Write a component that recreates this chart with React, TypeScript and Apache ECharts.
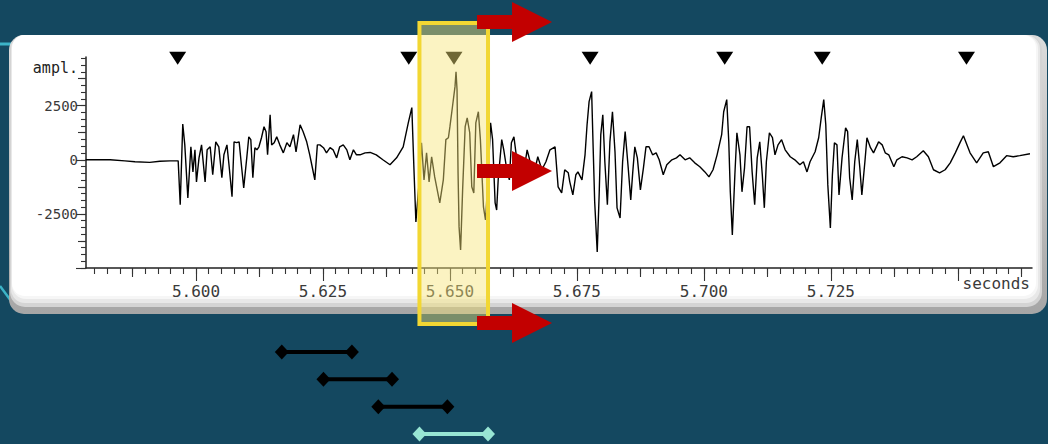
import React, { useEffect, useRef } from "react";
import * as echarts from "echarts";

// Seismic trace: sample times (s) and amplitudes
const traceTime = [
  5.5783, 5.5831, 5.5860, 5.5880, 5.5909, 5.5929, 5.5949, 5.5965, 5.5969, 5.5974,
  5.5978, 5.5984, 5.5990, 5.5994, 5.5998, 5.6001, 5.6006, 5.6011, 5.6018, 5.6022,
  5.6028, 5.6033, 5.6039, 5.6045, 5.6051, 5.6055, 5.6061, 5.6065, 5.6071, 5.6075,
  5.6080, 5.6085, 5.6090, 5.6094, 5.6100, 5.6104, 5.6108, 5.6112, 5.6116, 5.6120,
  5.6124, 5.6129, 5.6134, 5.6138, 5.6141, 5.6146, 5.6149, 5.6154, 5.6159, 5.6165,
  5.6172, 5.6179, 5.6185, 5.6192, 5.6197, 5.6205, 5.6211, 5.6218, 5.6224, 5.6230,
  5.6234, 5.6239, 5.6244, 5.6251, 5.6257, 5.6264, 5.6270, 5.6277, 5.6283, 5.6290,
  5.6297, 5.6303, 5.6310, 5.6316, 5.6323, 5.6333, 5.6343, 5.6355, 5.6368, 5.6382,
  5.6395, 5.6408, 5.6418, 5.6425, 5.6429, 5.6433, 5.6439, 5.6444, 5.6449, 5.6454,
  5.6459, 5.6464, 5.6470, 5.6480, 5.6487, 5.6492, 5.6497, 5.6500, 5.6505, 5.6510,
  5.6512, 5.6514, 5.6516, 5.6518, 5.6521, 5.6525, 5.6530, 5.6534, 5.6539, 5.6543,
  5.6547, 5.6551, 5.6556, 5.6560, 5.6566, 5.6570, 5.6575, 5.6580, 5.6584, 5.6589,
  5.6592, 5.6595, 5.6602, 5.6606, 5.6612, 5.6617, 5.6621, 5.6626, 5.6631, 5.6638,
  5.6646, 5.6652, 5.6657, 5.6665, 5.6673, 5.6681, 5.6689, 5.6697, 5.6707, 5.6713,
  5.6720, 5.6726, 5.6733, 5.6736, 5.6742, 5.6748, 5.6752, 5.6760, 5.6766, 5.6770,
  5.6774, 5.6779, 5.6782, 5.6785, 5.6790, 5.6794, 5.6797, 5.6801, 5.6805, 5.6810,
  5.6815, 5.6820, 5.6825, 5.6829, 5.6835, 5.6840, 5.6845, 5.6851, 5.6856, 5.6860,
  5.6864, 5.6869, 5.6875, 5.6881, 5.6886, 5.6892, 5.6899, 5.6906, 5.6912, 5.6920,
  5.6927, 5.6937, 5.6946, 5.6953, 5.6963, 5.6972, 5.6982, 5.6992, 5.7002, 5.7010,
  5.7018, 5.7026, 5.7035, 5.7039, 5.7045, 5.7049, 5.7052, 5.7056, 5.7061, 5.7065,
  5.7071, 5.7075, 5.7080, 5.7085, 5.7090, 5.7095, 5.7100, 5.7105, 5.7110, 5.7115,
  5.7119, 5.7123, 5.7129, 5.7135, 5.7140, 5.7146, 5.7153, 5.7160, 5.7170, 5.7179,
  5.7189, 5.7196, 5.7203, 5.7209, 5.7219, 5.7226, 5.7231, 5.7236, 5.7240, 5.7244,
  5.7249, 5.7253, 5.7257, 5.7262, 5.7266, 5.7272, 5.7279, 5.7283, 5.7287, 5.7292,
  5.7297, 5.7302, 5.7307, 5.7311, 5.7317, 5.7321, 5.7328, 5.7334, 5.7344, 5.7351,
  5.7357, 5.7364, 5.7374, 5.7380, 5.7390, 5.7400, 5.7410, 5.7419, 5.7432, 5.7442,
  5.7452, 5.7464, 5.7475, 5.7485, 5.7495, 5.7505, 5.7511, 5.7524, 5.7537, 5.7550,
  5.7560, 5.7570, 5.7583, 5.7596, 5.7609, 5.7622, 5.7642,
];

const traceAmp = [
  0, 0, -50, -90, -120, -70, -50, -50, -2080, 1650,
  690, -1760, 600, -560, 460, -1020, 90, 690, -1020, 460,
  600, -690, 830, 600, -830, 230, 690, -230, -1710, 830,
  790, 830, -370, -1300, 90, 1060, 930, -830, 560, 460,
  600, 1020, 1530, 1300, 230, 2080, 690, 790, 1060, 690,
  320, 790, 600, 1160, 370, 1620, 1300, 830, 230, -460,
  -930, 690, 690, 560, 320, 560, 460, 90, 600, 690,
  460, 0, 460, 230, 230, 320, 340, 230, 0, -230,
  90, 600, 1710, 2410, -320, -2870, -1160, 790, -930, 320,
  -1020, 140, -790, -1990, -930, 930, 1020, 1530, 2450, 3380,
  4070, 3240, -600, -3100, -4170, -1390, 1530, 1940, 1250, -1250,
  -1530, 1710, 2220, 930, -2180, -2780, -930, 1710, 930, -1990,
  -2320, -930, 930, 460, -460, -930, 790, 1060, 140, -690,
  -460, 460, 0, -690, 140, -460, -90, 460, 600, -1250,
  -1530, -460, -600, -1020, -1620, -690, -560, -930, 230, 1620,
  2690, 3150, 560, -1940, -4260, -1480, 1160, 2080, -90, -2080,
  830, 2220, 370, -2220, -2690, -90, 1300, -370, -1850, -560,
  600, 90, -1390, -370, 600, 600, 230, 320, 0, -690,
  -230, 0, 90, 230, 0, 90, -140, -320, -560, -790,
  -460, 230, 1160, 2220, 2780, 830, -1480, -3470, -690, 1250,
  230, -1480, -370, 1530, 1530, -560, -2080, 90, 830, -690,
  -2220, -90, 1250, 1020, 230, 690, 930, 460, 140, 0,
  -230, -90, -560, -90, 370, 1020, 1940, 2780, 1620, -1160,
  -3150, -690, 790, 690, -1620, 90, 1480, 1300, -830, -1850,
  -90, 930, -370, -1620, -90, 1020, 560, 320, 830, 690,
  320, 230, -320, 0, 140, 90, 0, 140, 420, 140,
  -460, -600, -460, -140, 320, 830, 1110, 320, -140, 320,
  370, -320, -140, 190, 140, 190, 280,
];

// Phase picks (s)
const pickTimes = [5.5964, 5.6419, 5.6508, 5.6776, 5.7041, 5.7233, 5.7517];
const PICK_LEVEL = 4690;

// Sliding analysis windows (s); the last one is the current window
const windowStart = [5.6169, 5.6251, 5.6359, 5.644];
const windowEnd = [5.6307, 5.6386, 5.6495, 5.6575];
const windowColors = ["#000000", "#000000", "#000000", "#98e6d4"];

// Axis ranges and tick labels
const T_MIN = 5.57835;
const T_MAX = 5.7646;
const A_MIN = -5000;
const A_MAX = 4750;
const timeLabels = [5.6, 5.625, 5.65, 5.675, 5.7, 5.725];
const ampLabels = [-2500, 0, 2500];

function steps(from: number, to: number, step: number): number[] {
  const out: number[] = [];
  for (let i = 0; from + i * step <= to + 1e-9; i++) {
    out.push(+(from + i * step).toFixed(6));
  }
  return out;
}

const xMajor = steps(5.6, 5.75, 0.025);
const xMid = steps(5.5875, 5.7625, 0.025);
const xMinor = steps(5.58, 5.7625, 0.0025);
const yMajor = steps(-5000, 2500, 2500);
const yMid = steps(-3750, 3750, 2500);
const yMinor = steps(-5000, 4700, 312.5);

const MONO = '"DejaVu Sans Mono", monospace';
const BG = "#144860";
const TICK = { color: "#333333", width: 1.1 };

export default function App() {
  const ref = useRef<HTMLDivElement>(null);

  useEffect(() => {
    if (!ref.current) return;
    const chart = echarts.init(ref.current, undefined, { renderer: "svg" });

    const baseX = {
      type: "value" as const,
      min: T_MIN,
      max: T_MAX,
      position: "bottom" as const,
      splitLine: { show: false },
      axisLine: { show: false, onZero: false },
      axisLabel: { show: false },
      axisTick: { show: false },
    };
    const baseY = {
      type: "value" as const,
      min: A_MIN,
      max: A_MAX,
      position: "left" as const,
      splitLine: { show: false },
      axisLine: { show: false, onZero: false },
      axisLabel: { show: false },
      axisTick: { show: false },
    };

    chart.setOption({
      animation: false,
      backgroundColor: BG,
      grid: [
        { left: 86, right: 16, top: 57, bottom: 176 },
        { left: 86, right: 16, top: 352, height: 82 },
      ],
      xAxis: [
        {
          ...baseX,
          gridIndex: 0,
          axisLine: { show: true, onZero: false, lineStyle: { color: "#222222", width: 1.5 } },
          axisTick: { show: true, customValues: xMajor, length: 13, lineStyle: TICK },
          axisLabel: {
            show: true,
            customValues: timeLabels,
            formatter: (v: number) => v.toFixed(3),
            margin: 15,
            fontFamily: MONO,
            fontSize: 16,
            color: "#3a3a3a",
          },
          name: "seconds",
          nameLocation: "end",
          nameGap: 0,
          nameTextStyle: {
            align: "right",
            verticalAlign: "top",
            padding: [7, 2, 0, 0],
            fontFamily: MONO,
            fontSize: 16,
            color: "#3a3a3a",
          },
        },
        { ...baseX, gridIndex: 0, axisTick: { show: true, customValues: xMid, length: 9, lineStyle: TICK } },
        { ...baseX, gridIndex: 0, axisTick: { show: true, customValues: xMinor, length: 6, lineStyle: TICK } },
        { ...baseX, gridIndex: 1, show: false },
      ],
      yAxis: [
        {
          ...baseY,
          gridIndex: 0,
          axisLine: { show: true, onZero: false, lineStyle: { color: "#222222", width: 1.5 } },
          axisTick: { show: true, customValues: yMajor, length: 10, lineStyle: TICK },
          axisLabel: {
            show: true,
            customValues: ampLabels,
            formatter: (v: number) => String(v),
            margin: 8,
            fontFamily: MONO,
            fontSize: 14,
            color: "#3a3a3a",
          },
          name: "ampl.",
          nameLocation: "end",
          nameGap: -11,
          nameTextStyle: {
            align: "right",
            verticalAlign: "middle",
            padding: [0, 8, 0, 0],
            fontFamily: MONO,
            fontSize: 15,
            color: "#222222",
          },
        },
        { ...baseY, gridIndex: 0, axisTick: { show: true, customValues: yMid, length: 8, lineStyle: TICK } },
        { ...baseY, gridIndex: 0, axisTick: { show: true, customValues: yMinor, length: 5, lineStyle: TICK } },
        { type: "value", gridIndex: 1, min: 0, max: 3, inverse: true, show: false },
      ],
      series: [
        {
          type: "line",
          xAxisIndex: 0,
          yAxisIndex: 0,
          data: traceTime.map((t, i) => [t, traceAmp[i]]),
          symbol: "none",
          showSymbol: false,
          silent: true,
          lineStyle: { color: "#000000", width: 1.4 },
        },
        {
          type: "scatter",
          xAxisIndex: 0,
          yAxisIndex: 0,
          data: pickTimes.map((t) => [t, PICK_LEVEL]),
          symbol: "triangle",
          symbolRotate: 180,
          symbolSize: [17, 13],
          itemStyle: { color: "#000000", opacity: 1 },
          clip: false,
          silent: true,
        },
        ...windowStart.map((s, i) => ({
          type: "line",
          xAxisIndex: 3,
          yAxisIndex: 3,
          data: [
            [s, i],
            [windowEnd[i], i],
          ],
          symbol: "diamond",
          symbolSize: [14, 15],
          showSymbol: true,
          clip: false,
          silent: true,
          lineStyle: { color: windowColors[i], width: 4 },
          itemStyle: { color: windowColors[i], opacity: 1 },
        })),
      ],
    });

    // Highlight box for the current window and the sliding arrows
    const cur = windowStart.length - 1;
    const xl = chart.convertToPixel({ xAxisIndex: 3 }, windowStart[cur]) as number;
    const xr = chart.convertToPixel({ xAxisIndex: 3 }, windowEnd[cur]) as number;

    const arrow = (cy: number) => ({
      type: "polygon",
      z: 101,
      silent: true,
      shape: {
        points: [
          [xr - 11, cy - 7],
          [xr + 24, cy - 7],
          [xr + 24, cy - 20],
          [xr + 64, cy],
          [xr + 24, cy + 20],
          [xr + 24, cy + 7],
          [xr - 11, cy + 7],
        ],
      },
      style: { fill: "#c20000" },
    });

    chart.setOption({
      graphic: [
        // template accents behind the panel
        { type: "line", z: -20, silent: true, shape: { x1: 0, y1: 44, x2: 12, y2: 44 }, style: { stroke: "#3cb3c7", lineWidth: 3 } },
        { type: "line", z: -20, silent: true, shape: { x1: 0, y1: 286, x2: 14, y2: 305 }, style: { stroke: "#3cb3c7", lineWidth: 2.5 } },
        // bevelled white panel
        {
          type: "rect",
          z: -15,
          silent: true,
          shape: { x: 9, y: 35, width: 1038, height: 279, r: 15 },
          style: {
            fill: new echarts.graphic.LinearGradient(0, 0, 0, 1, [
              { offset: 0, color: "#dcdcdc" },
              { offset: 1, color: "#a6a6a6" },
            ]),
          },
        },
        { type: "rect", z: -14, silent: true, shape: { x: 10, y: 35, width: 1032, height: 272, r: 15 }, style: { fill: "#d4d4d4" } },
        { type: "rect", z: -13, silent: true, shape: { x: 11, y: 35, width: 1029, height: 268, r: 14 }, style: { fill: "#e8e8e8" } },
        { type: "rect", z: -12, silent: true, shape: { x: 12, y: 35, width: 1026, height: 264, r: 14 }, style: { fill: "#f6f6f6" } },
        { type: "rect", z: -11, silent: true, shape: { x: 12, y: 35, width: 1024, height: 261, r: 13 }, style: { fill: "#ffffff" } },
        // current window highlight
        {
          type: "rect",
          z: 100,
          silent: true,
          shape: { x: xl, y: 23, width: xr - xl, height: 301 },
          style: { fill: "rgba(246,228,120,0.45)", stroke: "#f2d733", lineWidth: 4 },
        },
        arrow(22),
        arrow(171),
        arrow(323),
      ],
    });

    return () => chart.dispose();
  }, []);

  return (
    <div
      ref={ref}
      style={{ position: "fixed", left: 0, top: 0, width: 1048, height: 444 }}
    />
  );
}
